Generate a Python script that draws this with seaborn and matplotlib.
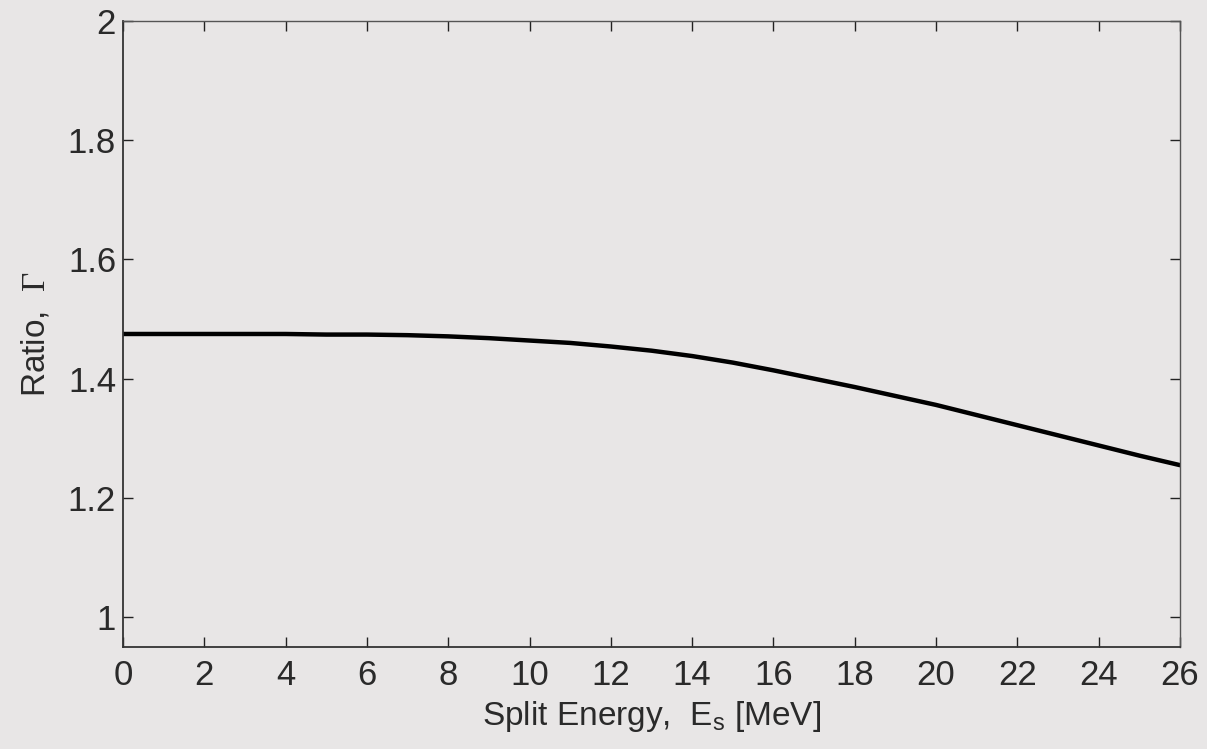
import matplotlib
matplotlib.use("Agg")
import matplotlib.pyplot as plt
import seaborn as sns
import pandas as pd

# Split energy (MeV) and the corresponding ratio Gamma
split_energy = list(range(0, 27))
ratio = [1.475, 1.475, 1.475, 1.475, 1.475, 1.474, 1.474, 1.473, 1.471,
         1.468, 1.464, 1.460, 1.454, 1.447, 1.438, 1.427, 1.414, 1.400,
         1.386, 1.371, 1.356, 1.339, 1.322, 1.305, 1.288, 1.271, 1.255]

x_ticks = list(range(0, 27, 2))
y_ticks = [1.0, 1.2, 1.4, 1.6, 1.8, 2.0]
y_tick_labels = ["1", "1.2", "1.4", "1.6", "1.8", "2"]

bg = "#e8e6e6"
sns.set_theme(style="ticks")
plt.rcParams["font.family"] = ["Liberation Sans", "DejaVu Sans"]
plt.rcParams["mathtext.fontset"] = "custom"
plt.rcParams["mathtext.rm"] = "Liberation Serif"
plt.rcParams["mathtext.sf"] = "Liberation Sans"

df = pd.DataFrame({"E": split_energy, "ratio": ratio})

fig = plt.figure(figsize=(12.07, 7.49), dpi=100, facecolor=bg)
ax = fig.add_axes([0.1019, 0.1362, 0.8757, 0.8358])
ax.set_facecolor(bg)

sns.lineplot(data=df, x="E", y="ratio", ax=ax, color="black", linewidth=3.2)

ax.set_xlim(0, 26)
ax.set_ylim(0.95, 2.0)
ax.set_xticks(x_ticks)
ax.set_yticks(y_ticks)
ax.set_yticklabels(y_tick_labels)

text_color = "#2a2a2a"
ax.tick_params(direction="in", length=7, width=1, top=True, right=True,
               labelsize=25, colors="#222222", labelcolor=text_color)
ax.tick_params(axis="x", pad=9)
ax.tick_params(axis="y", pad=5)

for side, spine in ax.spines.items():
    spine.set_visible(True)
    spine.set_color("#333333" if side in ("left", "bottom") else "#555555")
    spine.set_linewidth(1.3 if side in ("left", "bottom") else 1.0)

ax.set_xlabel(r"Split Energy,  $\mathsf{E_s}$ [MeV]", fontsize=24,
              color=text_color, labelpad=5)
ax.set_ylabel(r"Ratio,  $\Gamma$", fontsize=24, color=text_color, labelpad=12)

fig.savefig("out.png", dpi=100, facecolor=bg)
